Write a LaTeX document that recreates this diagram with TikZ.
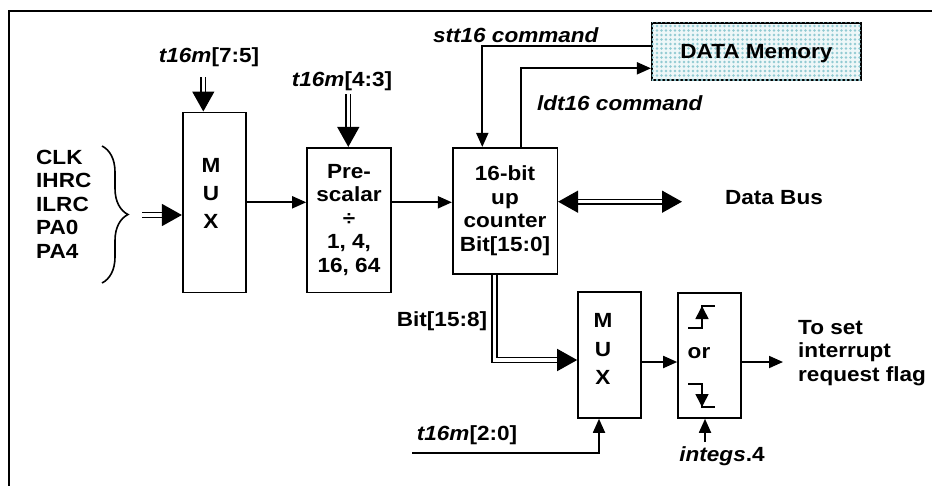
\documentclass[tikz,border=0pt]{standalone}
\usepackage{fontspec}
\setmainfont{Liberation Sans}[FakeStretch=1.1]
\usetikzlibrary{arrows.meta,decorations.pathreplacing,patterns.meta}
\definecolor{memdot}{RGB}{145,202,210}
\definecolor{memfill}{RGB}{238,247,248}

\begin{document}
\begin{tikzpicture}[x=1pt,y=-1pt,font=\bfseries\fontsize{20.5}{23.5}\selectfont]
 \tikzset{block/.style={draw, line width=1.6pt, inner sep=0pt, align=center},
  lbl/.style={inner sep=0pt, anchor=base},
  arr/.style={line width=1.8pt, -{Triangle[length=14pt,width=12pt]}},
  bus/.style={double, double distance=3.3pt, line width=1.5pt, -{Triangle[length=20pt,width=22pt]}},
  edgemark/.style={line width=1.6pt}};
 \useasboundingbox (0,0) rectangle (932,485);
 \draw[line width=1.8pt] (940,10.7) -- (9,10.7) -- (9,495);

 \node[block, minimum width=63pt, minimum height=180pt] (mux1) at (214.2,202.3) {};
 \node[inner sep=0pt, align=center] (mux1txt) at (211,193.3) {M\\[4.5pt]U\\[4.5pt]X};
 \node[block, minimum width=84pt, minimum height=144.6pt] (pre) at (349,220) {Pre-\\scalar\\÷\\1, 4,\\16, 64};
 \node[block, minimum width=104.6pt, minimum height=126.3pt] (cnt) at (505,210.9) {16-bit\\up\\counter\\Bit[15:0]};
 \node[block, minimum width=209.3pt, minimum height=57.3pt, text depth=0pt, fill=memfill,
  postaction={pattern={Dots[distance=4.5pt,radius=1.4pt]}, pattern color=memdot}] (mem) at (756.4,51.4) {DATA Memory};
 \node[block, minimum width=63pt, minimum height=126pt] (mux2) at (609.5,355) {};
 \node[inner sep=0pt, align=center] (mux2txt) at (603,349) {M\\[5pt]U\\[5pt]X};
 \node[block, minimum width=63pt, minimum height=125pt] (edge) at (709.5,355.5) {};
 \node[lbl] (ortxt) at (699,358.5) {or};

 \node[inner sep=0pt, anchor=west, align=left] (src) at (36,203.9) {CLK\\IHRC\\ILRC\\PA0\\PA4};
 \node[lbl] (sel75) at (209,62.3) {\textit{t16m}[7:5]};
 \node[lbl] (sel43) at (342,86) {\textit{t16m}[4:3]};
 \node[lbl] (stt) at (516,42.5) {\textit{stt16 command}};
 \node[lbl] (ldt) at (620,110.5) {\textit{ldt16 command}};
 \node[lbl] (dbus) at (774,204.5) {Data Bus};
 \node[lbl] (hibits) at (442,326.5) {Bit[15:8]};
 \node[lbl] (sel20) at (467,440.5) {\textit{t16m}[2:0]};
 \node[lbl] (integ) at (722,461.5) {\textit{integs}.4};
 \node[inner sep=0pt, anchor=west, align=left] (irq) at (798,353) {To set\\interrupt\\request flag};

 \coordinate (brtop) at (102,146);
 \coordinate (brbot) at (102,283);
 \coordinate (brtip) at (142,215);
 \coordinate (in75) at (203.3,77);
 \coordinate (in43) at (348.3,94);
 \coordinate (busend) at (682,201.7);
 \coordinate (irqend) at (783,362);
 \coordinate (in20) at (412,453);
 \coordinate (in4) at (705,442);

 \draw[line width=1.6pt, decorate, decoration={brace, amplitude=26pt}] (brtop) -- (brbot);
 \draw[bus] (brtip) -- (brtip -| mux1.west);
 \draw[bus] (in75) -- (in75 |- mux1.north);
 \draw[bus] (in43) -- (in43 |- pre.north);
 \draw[arr] (mux1.east) -- (mux1.east -| pre.west);
 \draw[arr] (mux1.east -| pre.east) -- (mux1.east -| cnt.west);
 \draw[arr] ([yshift=5.7pt]mem.west) -| ([xshift=-22.7pt]cnt.north);
 \draw[arr] ([xshift=16pt]cnt.north) |- ([yshift=-16.9pt]mem.west);
 \draw[bus, {Triangle[length=20pt,width=22pt]}-{Triangle[length=20pt,width=22pt]}] (busend -| cnt.east) -- (busend);
 \draw[bus] ([xshift=-10.5pt]cnt.south) |- ([yshift=-5pt]mux2.west);
 \draw[arr] ([yshift=-7pt]mux2.east) -- ([yshift=-7pt]mux2.east -| edge.west);
 \draw[arr] (irqend -| edge.east) -- (irqend);
 \draw[arr] (in20) -| ([xshift=-10.5pt]mux2.south);
 \draw[arr] (in4) -- (in4 |- edge.south);

 \draw[edgemark] (688,328) -- (702,328) -- (702,306) -- (715,306);
 \draw[edgemark, -{Triangle[length=13pt,width=13pt]}] (702,328) -- (702,306);
 \draw[edgemark] (688,384) -- (702,384) -- (702,407) -- (715,407);
 \draw[edgemark, -{Triangle[length=13pt,width=13pt]}] (702,384) -- (702,407);
\end{tikzpicture}
\end{document}
